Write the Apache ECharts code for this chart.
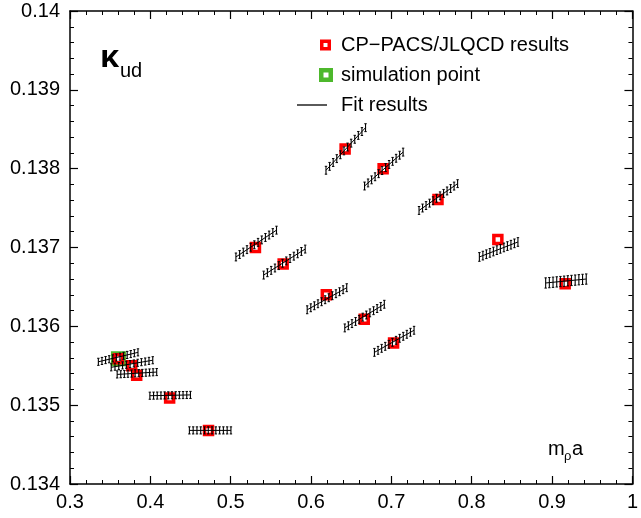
<!DOCTYPE html>
<html>
<head>
<meta charset="utf-8">
<script src="https://cdn.jsdelivr.net/npm/echarts@6/dist/echarts.min.js"></script>
<style>html,body{margin:0;padding:0;background:#fff;}#c{width:641px;height:518px;}</style>
</head>
<body>
<div id="c"></div>
<script>
// ---- data ----
var xTicks = [0.3, 0.4, 0.5, 0.6, 0.7, 0.8, 0.9, 1.0];
var yTicks = [0.134, 0.135, 0.136, 0.137, 0.138, 0.139, 0.14];

// CP-PACS/JLQCD results (m_rho a, kappa_ud)
var resX = [0.6424, 0.6897, 0.758, 0.8325, 0.9163, 0.5308, 0.5653, 0.619, 0.6662, 0.7027, 0.3603, 0.3768, 0.383, 0.424, 0.4724];
var resY = [0.13825, 0.1380, 0.13761, 0.13710, 0.13654, 0.13700, 0.13679, 0.1364, 0.13609, 0.13579, 0.13559, 0.13550, 0.13538, 0.13509, 0.13468];

// simulation point
var simX = [0.3603];
var simY = [0.13559];

// Fit results: segment ends and error half-height
var fitX0 = [0.6186, 0.6666, 0.7344, 0.8095, 0.8920, 0.5065, 0.5410, 0.5952, 0.6420, 0.6789, 0.3353, 0.3513, 0.3587, 0.3994, 0.4486];
var fitY0 = [0.13798, 0.13778, 0.13747, 0.13688, 0.13655, 0.13688, 0.13665, 0.13621, 0.13598, 0.13567, 0.13555, 0.13548, 0.13539, 0.13512, 0.13468];
var fitX1 = [0.6678, 0.7146, 0.7824, 0.8575, 0.9425, 0.5570, 0.5927, 0.6444, 0.6912, 0.7282, 0.3846, 0.4030, 0.4079, 0.4499, 0.5003];
var fitY1 = [0.13852, 0.13821, 0.13781, 0.13707, 0.13660, 0.13722, 0.13698, 0.13649, 0.13628, 0.13595, 0.13567, 0.13557, 0.13542, 0.13513, 0.13468];
var fitErr = [0.00005, 0.00005, 0.00005, 0.000055, 0.000065, 0.00005, 0.00005, 0.00005, 0.00005, 0.00005, 0.000045, 0.000045, 0.000045, 0.000045, 0.000045];

// ---- build ----
var resData = resX.map(function (x, i) { return [x, resY[i]]; });
var simData = simX.map(function (x, i) { return [x, simY[i]]; });
var fitData = fitX0.map(function (x, i) { return [x, fitY0[i], fitX1[i], fitY1[i], fitErr[i]]; });

var FONT = 'Liberation Sans, Arial, Helvetica, sans-serif';
var N_BARS = 12;

function renderFit(params, api) {
  var x0 = api.value(0), y0 = api.value(1), x1 = api.value(2), y1 = api.value(3), e = api.value(4);
  var p0 = api.coord([x0, y0]), p1 = api.coord([x1, y1]);
  var children = [{
    type: 'line', shape: { x1: p0[0], y1: p0[1], x2: p1[0], y2: p1[1] },
    style: { stroke: '#000', lineWidth: 1 }
  }];
  for (var i = 0; i < N_BARS; i++) {
    var t = i / (N_BARS - 1);
    var x = x0 + (x1 - x0) * t, y = y0 + (y1 - y0) * t;
    var a = api.coord([x, y + e]), b = api.coord([x, y - e]);
    children.push({ type: 'line', shape: { x1: a[0], y1: a[1], x2: b[0], y2: b[1] }, style: { stroke: '#000', lineWidth: 1.1 } });
    children.push({ type: 'line', shape: { x1: a[0] - 1.2, y1: a[1], x2: a[0] + 1.2, y2: a[1] }, style: { stroke: '#000', lineWidth: 1 } });
    children.push({ type: 'line', shape: { x1: b[0] - 1.2, y1: b[1], x2: b[0] + 1.2, y2: b[1] }, style: { stroke: '#000', lineWidth: 1 } });
  }
  return { type: 'group', children: children };
}

function axisCommon(pos, showLabel) {
  return {
    type: 'value',
    position: pos,
    axisLine: { show: true, onZero: false, lineStyle: { color: '#000', width: 1.5 } },
    axisTick: { show: true, inside: true, length: 8, lineStyle: { color: '#000', width: 1.2 } },
    minorTick: { show: true, splitNumber: 5, length: 4, lineStyle: { color: '#000', width: 1 } },
    splitLine: { show: false },
    axisLabel: { show: showLabel, color: '#000', fontSize: 20, fontFamily: FONT, margin: 8 }
  };
}

var xb = axisCommon('bottom', true);
xb.min = xTicks[0]; xb.max = xTicks[xTicks.length - 1]; xb.interval = 0.1;
xb.axisLabel.formatter = function (v) { return String(+v.toFixed(1)); };
var xt = axisCommon('top', false);
xt.min = xb.min; xt.max = xb.max; xt.interval = 0.1;

var yl = axisCommon('left', true);
yl.min = yTicks[0]; yl.max = yTicks[yTicks.length - 1]; yl.interval = 0.001;
yl.axisLabel.formatter = function (v) { return String(+v.toFixed(3)); };
yl.axisLabel.margin = 10;
var yr = axisCommon('right', false);
yr.min = yl.min; yr.max = yl.max; yr.interval = 0.001;

var chart = echarts.init(document.getElementById('c'), null, { renderer: 'canvas' });
chart.setOption({
  animation: false,
  backgroundColor: '#fff',
  grid: { left: 70, right: 2.5, top: 11, bottom: 34, containLabel: false },
  xAxis: [xb, xt],
  yAxis: [yl, yr],
  legend: [
    {
      data: ['CP\u2212PACS/JLQCD results'], orient: 'vertical', left: 320, top: 35, padding: 0,
      itemWidth: 11, itemHeight: 11, icon: 'path://M0,0H11V11H0Z M3.5,3.5V7.5H7.5V3.5Z',
      itemStyle: { color: '#ff0000', borderWidth: 0 },
      textStyle: { fontSize: 20, fontFamily: FONT, color: '#000', padding: [0, 0, 0, 5] }
    },
    {
      data: ['simulation point'], orient: 'vertical', left: 319, top: 65, padding: 0,
      itemWidth: 14, itemHeight: 14, icon: 'path://M0,0H14V14H0Z M4.5,4.5V9.5H9.5V4.5Z',
      itemStyle: { color: '#4db82c', borderWidth: 0 },
      textStyle: { fontSize: 20, fontFamily: FONT, color: '#000', padding: [0, 0, 0, 3] }
    },
    {
      data: ['Fit results'], orient: 'vertical', left: 297, top: 95, padding: 0,
      itemWidth: 30, itemHeight: 10, icon: 'path://M0,4.5H30V5.8H0Z',
      itemStyle: { color: '#000', borderWidth: 0 },
      textStyle: { fontSize: 20, fontFamily: FONT, color: '#000', padding: [0, 0, 0, 9] }
    }
  ],
  graphic: [
    { type: 'text', left: 100, top: 43, style: { text: '\u03ba', font: 'bold 31px Noto Sans', fill: '#000' } },
    { type: 'text', left: 120, top: 61, style: { text: 'ud', font: '20px ' + FONT, fill: '#000' } },
    { type: 'text', left: 548, top: 439, style: { text: 'm', font: '20px ' + FONT, fill: '#000' } },
    { type: 'text', left: 564, top: 450, style: { text: '\u03c1', font: '13px ' + FONT, fill: '#000' } },
    { type: 'text', left: 572, top: 439, style: { text: 'a', font: '20px ' + FONT, fill: '#000' } }
  ],
  series: [
    {
      name: 'simulation point', type: 'scatter', data: simData, z: 3,
      symbol: 'rect', symbolSize: 10.5,
      itemStyle: { color: '#ffffff', borderColor: '#4db82c', borderWidth: 4.5, opacity: 1 }
    },
    {
      name: 'CP\u2212PACS/JLQCD results', type: 'scatter', data: resData, z: 4,
      symbol: 'rect', symbolSize: 8,
      itemStyle: { color: '#ffffff', borderColor: '#ff0000', borderWidth: 3.5, opacity: 1 }
    },
    {
      name: 'Fit results', type: 'custom', data: fitData, z: 5,
      renderItem: renderFit, encode: { x: [0, 2], y: [1, 3] },
      itemStyle: { color: '#000' }
    }
  ]
});
</script>
</body>
</html>
